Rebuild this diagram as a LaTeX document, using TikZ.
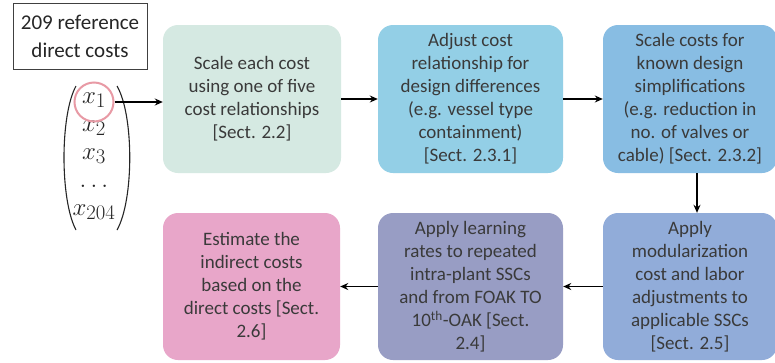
\documentclass[tikz,border=0pt]{standalone}
\usepackage{fontspec}
\setmainfont{Carlito}
\usepackage{amsmath}
\usetikzlibrary{arrows.meta,matrix}
\definecolor{txt}{HTML}{3A3A3A}
\definecolor{cA}{HTML}{D5E9E2}
\definecolor{cB}{HTML}{93CFE6}
\definecolor{cC}{HTML}{88BDE3}
\definecolor{cD}{HTML}{91ACD9}
\definecolor{cE}{HTML}{989DC4}
\definecolor{cF}{HTML}{E8A6C9}
\definecolor{ring}{HTML}{E89AA5}
\tikzset{
  stepbox/.style={rounded corners=15pt, draw=none, align=center, text=txt,
    font=\fontsize{19}{23}\selectfont, inner sep=1pt},
  flow/.style={-{Stealth[length=8pt,width=7pt]}, line width=1.8pt, black},
  paren/.style={line width=1.1pt, black!85},
}
\begin{document}
\begin{tikzpicture}[x=1pt,y=-1pt]
\useasboundingbox (0,0) rectangle (775,362);
\fill[white] (0,0) rectangle (775,362);
% title box
\node[draw=black!75, line width=1pt, minimum width=134pt, minimum height=66pt, align=center,
  font=\fontsize{21}{28}\selectfont, text=black!85] (ref) at (80,36.5) {209 reference\\direct costs};
% vector
\matrix (vec) [matrix of math nodes, row sep=3pt, inner sep=1pt,
  nodes={font=\fontsize{28}{28}\selectfont, text height=10pt, text depth=6pt,
         minimum height=25pt, inner sep=0pt, text=black!85}]
  at (94,157) {
  x_1 \\ x_2 \\ x_3 \\ \dots \\ x_{204} \\
};
\draw[paren] (76,86) .. controls (60,115) and (60,200) .. (76,230);
\draw[paren] (117,86) .. controls (134,115) and (134,200) .. (117,230);
\node[draw=ring, line width=2pt, circle, minimum size=39pt] (ringx) at ([yshift=-1pt]vec-1-1) {};
% boxes
\node[stepbox, fill=cA, minimum width=178pt, minimum height=148pt] (b1) at (252,99)
  {Scale each cost\\using one of five\\cost relationships\\{}[Sect. 2.2]};
\node[stepbox, fill=cB, minimum width=185pt, minimum height=148pt] (b2) at (470.5,99)
  {Adjust cost\\relationship for\\design differences\\(e.g. vessel type\\containment)\\{}[Sect. 2.3.1]};
\node[stepbox, fill=cC, minimum width=174pt, minimum height=148pt] (b3) at (690,99)
  {Scale costs for\\known design\\simplifications\\(e.g. reduction in\\no. of valves or\\cable) [Sect. 2.3.2]};
\node[stepbox, fill=cD, minimum width=174pt, minimum height=147pt] (b4) at (690,286.5)
  {Apply\\modularization\\cost and labor\\adjustments to\\applicable SSCs\\{}[Sect. 2.5]};
\node[stepbox, fill=cE, minimum width=185pt, minimum height=147pt] (b5) at (470.5,286.5)
  {Apply learning\\rates to repeated\\intra-plant SSCs\\and from FOAK TO\\10\textsuperscript{th}-OAK [Sect.\\2.4]};
\node[stepbox, fill=cF, minimum width=177pt, minimum height=147pt] (b6) at (251.5,286.5)
  {Estimate the\\indirect costs\\based on the\\direct costs [Sect.\\2.6]};
% connectors
\draw[flow] (ringx.east) -- (b1.west |- ringx.east);
\draw[flow] (b1.east) -- (b2.west);
\draw[flow] (b2.east) -- (b3.west);
\draw[flow] ([xshift=7pt]b3.south) -- ([xshift=7pt]b4.north);
\draw[flow] (b4.west) -- (b5.east);
\draw[flow] (b5.west) -- (b6.east);
\end{tikzpicture}
\end{document}
